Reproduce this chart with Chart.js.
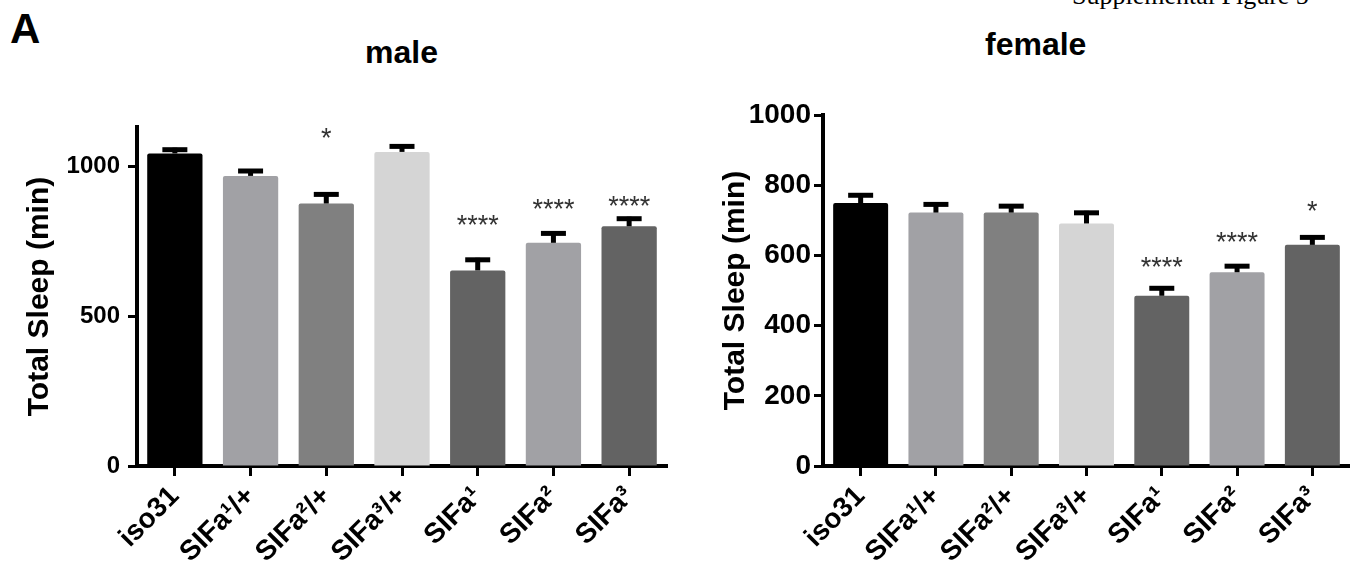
<!DOCTYPE html>
<html>
<head>
<meta charset="utf-8">
<script src="https://cdn.jsdelivr.net/npm/chart.js@4/dist/chart.umd.min.js"></script>
<style>
  html, body { margin: 0; padding: 0; background: #fff; }
  body { position: relative; width: 1350px; height: 561px; overflow: hidden; font-family: "Liberation Sans", Arial, sans-serif; }
  canvas { position: absolute; top: 0; }
  .txt { position: absolute; line-height: 1; white-space: nowrap; color: #000; }
</style>
</head>
<body>
<div class="txt" style="left:1072px; top:-17px; font-family:'Liberation Serif', 'Times New Roman', serif; font-size:26px;">Supplemental Figure 5</div>
<div class="txt" style="left:10px; top:8px; font-size:42px; font-weight:bold;">A</div>
<div class="txt" style="left:365px; top:36px; font-size:32px; font-weight:bold;">male</div>
<div class="txt" style="left:985px; top:28px; font-size:32px; font-weight:bold;">female</div>
<canvas id="maleChart" width="700" height="561" style="left:0px;"></canvas>
<canvas id="femaleChart" width="650" height="561" style="left:700px;"></canvas>
<script>
// genotypes on the x axis
const genotypes = ['iso31', 'SIFa¹/+', 'SIFa²/+', 'SIFa³/+', 'SIFa¹', 'SIFa²', 'SIFa³'];

// total sleep (min), mean and SEM
const maleSleep = [1042, 967, 875, 1047, 652, 744, 799];
const maleSem = [19, 23, 37, 25, 42, 38, 32];
const femaleSleep = [749, 722, 722, 691, 485, 552, 630];
const femaleSem = [28, 29, 24, 36, 27, 23, 27];

// significance marks
const maleStars = ['', '', '*', '', '****', '****', '****'];
const femaleStars = ['', '', '', '', '****', '****', '*'];

// y tick labels
const maleTicks = [0, 500, 1000];
const femaleTicks = [0, 200, 400, 600, 800, 1000];

const barColors = ['#000000', '#a1a1a5', '#808080', '#d5d5d5', '#636363', '#a1a1a5', '#636363'];

const FONT = '"Liberation Sans", Arial, sans-serif';

// SEM bars, drawn only above the bar like in Prism
const errorBars = {
  id: 'errorBars',
  afterDatasetsDraw(chart, args, opts) {
    const ctx = chart.ctx;
    const y = chart.scales.y;
    const meta = chart.getDatasetMeta(0);
    ctx.save();
    ctx.strokeStyle = '#000';
    ctx.lineCap = 'butt';
    meta.data.forEach((bar, i) => {
      const top = y.getPixelForValue(opts.mean[i] + opts.sem[i]);
      ctx.lineWidth = 5;
      ctx.beginPath();
      ctx.moveTo(bar.x, bar.y);
      ctx.lineTo(bar.x, top);
      ctx.stroke();
      ctx.beginPath();
      ctx.moveTo(bar.x - 12.5, top + 2);
      ctx.lineTo(bar.x + 12.5, top + 2);
      ctx.stroke();
    });
    ctx.restore();
  }
};

const starMarks = {
  id: 'starMarks',
  afterDatasetsDraw(chart, args, opts) {
    const ctx = chart.ctx;
    const y = chart.scales.y;
    const meta = chart.getDatasetMeta(0);
    ctx.save();
    ctx.fillStyle = '#333';
    ctx.font = '27px ' + FONT;
    ctx.textAlign = 'center';
    ctx.textBaseline = 'alphabetic';
    meta.data.forEach((bar, i) => {
      if (!opts.stars[i]) return;
      ctx.fillText(opts.stars[i], bar.x, y.getPixelForValue(opts.level[i]) + 15);
    });
    ctx.restore();
  }
};

function makeChart(id, values, sem, stars, starLevel, ticks, cfg) {
  const ctx = document.getElementById(id).getContext('2d');
  return new Chart(ctx, {
    type: 'bar',
    data: {
      labels: genotypes,
      datasets: [{
        data: values,
        backgroundColor: barColors,
        borderWidth: 0,
        borderRadius: 2,
        barPercentage: 0.73,
        categoryPercentage: 1
      }]
    },
    options: {
      responsive: false,
      animation: false,
      devicePixelRatio: 1,
      layout: { padding: { top: cfg.top, right: cfg.right, left: 0, bottom: 0 } },
      scales: {
        x: {
          offset: true,
          afterFit: (scale) => { scale.height = 95; },
          border: { display: true, color: '#000', width: 4 },
          grid: { display: true, offset: false, drawOnChartArea: false, drawTicks: true, tickLength: 10, tickWidth: 3, tickColor: '#000', color: '#000' },
          ticks: {
            autoSkip: false, minRotation: 45, maxRotation: 45, padding: 4,
            color: '#000', font: { family: FONT, size: 28, weight: 'bold' }
          }
        },
        y: {
          min: 0,
          max: cfg.max,
          afterFit: (scale) => { scale.width = cfg.yWidth; },
          afterBuildTicks: (scale) => { scale.ticks = ticks.map(v => ({ value: v })); },
          border: { display: true, color: '#000', width: 4 },
          grid: { display: true, drawOnChartArea: false, drawTicks: true, tickLength: 9, tickWidth: 3, tickColor: '#000', color: '#000' },
          ticks: {
            padding: cfg.tickPad,
            callback: (v) => String(v),
            color: '#000', font: { family: FONT, size: cfg.tickSize, weight: 'bold' }
          },
          title: {
            display: true,
            text: 'Total Sleep (min)',
            color: '#000',
            font: { family: FONT, size: 30, weight: 'bold' },
            padding: { top: cfg.titlePad, bottom: 0 }
          }
        }
      },
      plugins: {
        legend: { display: false },
        tooltip: { enabled: false },
        errorBars: { mean: values, sem: sem },
        starMarks: { stars: stars, level: starLevel }
      }
    },
    plugins: [errorBars, starMarks]
  });
}

makeChart('maleChart', maleSleep, maleSem, maleStars,
  [0, 0, 1115, 0, 825, 878, 887], maleTicks,
  { top: 127, right: 33, max: 1130, yWidth: 137, tickPad: 8, tickSize: 24, titlePad: 22 });

makeChart('femaleChart', femaleSleep, femaleSem, femaleStars,
  [0, 0, 0, 0, 583, 654, 744], femaleTicks,
  { top: 115, right: 0, max: 1000, yWidth: 123, tickPad: 3, tickSize: 28, titlePad: 18 });
</script>
</body>
</html>
